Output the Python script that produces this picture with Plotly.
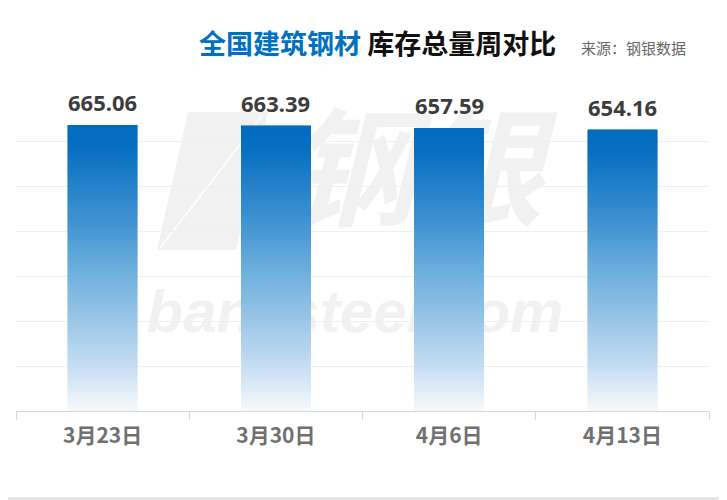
import plotly.graph_objects as go

# ---- data ----
categories = ["3月23日", "3月30日", "4月6日", "4月13日"]
values = [665.06, 663.39, 657.59, 654.16]
title_blue = "全国建筑钢材"
title_dark = "库存总量周对比"
source_text = "来源：钢银数据"

OFF = 8  # page body margin
W, H = 727 - OFF, 500 - OFF
# plot area in reference (window) pixels: x 16..709, y 110..411
ML = 16 - OFF
MR = W - (709 - OFF)
MT = 110 - OFF
MB = H - (411 - OFF)
PW, PH = W - ML - MR, H - MT - MB


def px(x):
    return (x - OFF - ML) / PW


def py(y):
    return (H - MB - (y - OFF)) / PH


# gradient stops: position from top (0) to bottom (1)
stops = [(0.0, (0x04, 0x6c, 0xbf)), (0.07, (0x06, 0x6e, 0xc0)), (0.31, (0x3a, 0x8f, 0xd0)),
         (0.50, (0x6a, 0xae, 0xdd)), (0.66, (0x94, 0xc3, 0xe5)), (0.84, (0xc5, 0xdd, 0xf1)),
         (1.0, (0xf7, 0xfa, 0xfd))]


def grad(t):
    for (p0, c0), (p1, c1) in zip(stops[:-1], stops[1:]):
        if p0 <= t <= p1:
            f = (t - p0) / (p1 - p0)
            c = [round(a + (b - a) * f) for a, b in zip(c0, c1)]
            return "rgb(%d,%d,%d)" % tuple(c)
    return "rgb(%d,%d,%d)" % stops[-1][1]


N = 100
fig = go.Figure()
for k in range(N):
    t_from_top = 1 - (k + 0.5) / N
    col = grad(t_from_top)
    fig.add_trace(go.Bar(
        x=categories, y=[v / N for v in values],
        marker=dict(color=col, line=dict(color=col, width=0.6)),
        showlegend=False, hoverinfo="skip",
    ))

annotations = []
for c, v in zip(categories, values):
    annotations.append(dict(
        x=c, y=v, xref="x", yref="y", text=f"{v:.2f}", showarrow=False,
        yanchor="bottom", yshift=6,
        font=dict(family="Noto Sans, DejaVu Sans", size=22, color="#3c3c3c", weight="bold"),
    ))

annotations.append(dict(
    x=px(377), y=py(42), xref="paper", yref="paper", xanchor="center", yanchor="middle",
    showarrow=False,
    text=f"<span style='color:#0070c0'>{title_blue}</span> {title_dark}",
    font=dict(family="Noto Sans CJK SC", size=27, color="#111111", weight="bold"),
))
annotations.append(dict(
    x=px(579), y=py(47), xref="paper", yref="paper", xanchor="left", yanchor="middle",
    showarrow=False, text=source_text,
    font=dict(family="Noto Sans CJK SC", size=15, color="#666666"),
))

wm = "#f1f1f1"
shapes = [
    # watermark icon
    dict(type="path", xref="paper", yref="paper", layer="below",
         path="M %f,%f L %f,%f L %f,%f L %f,%f Z" % (px(188), py(112), px(268), py(112),
                                                     px(236), py(250), px(157), py(250)),
         fillcolor=wm, line=dict(width=0)),
    dict(type="line", xref="paper", yref="paper", layer="below",
         x0=px(160), y0=py(248), x1=px(262), y1=py(116), line=dict(color="white", width=1.5)),
    # watermark text
    dict(type="rect", xref="paper", yref="paper", layer="below",
         x0=px(275), x1=px(555), y0=py(250), y1=py(110), line=dict(width=0),
         fillcolor="rgba(0,0,0,0)",
         label=dict(text="钢银", textposition="middle center",
                    font=dict(family="Noto Sans CJK SC", size=128, color=wm, weight="bold",
                              style="italic"))),
    dict(type="rect", xref="paper", yref="paper", layer="below",
         x0=px(150), x1=px(560), y0=py(340), y1=py(270), line=dict(width=0),
         fillcolor="rgba(0,0,0,0)",
         label=dict(text="banksteel.com", textposition="middle center",
                    font=dict(family="Liberation Sans", size=60, color=wm, weight="bold",
                              style="italic"))),
    # bottom border
    dict(type="line", xref="paper", yref="paper", x0=px(OFF), x1=px(727), y0=py(498.5), y1=py(498.5),
         line=dict(color="#dcdcdc", width=2)),
]

fig.update_layout(
    width=W, height=H, margin=dict(l=ML, r=MR, t=MT, b=MB),
    barmode="stack", bargap=0.6,
    plot_bgcolor="white", paper_bgcolor="white",
    annotations=annotations, shapes=shapes,
    xaxis=dict(type="category", showline=True, linecolor="#d6d6d6", linewidth=1,
               ticks="outside", tickson="boundaries", ticklen=8, tickcolor="#d6d6d6",
               showgrid=False, ticklabelstandoff=6,
               tickfont=dict(family="Noto Sans CJK SC", size=21, color="#707070", weight="bold")),
    yaxis=dict(range=[0, 700], showticklabels=False, showline=False, zeroline=False,
               tick0=0, dtick=104.65, gridcolor="#eceff6", gridwidth=1, ticks=""),
)

fig.write_html("out.html")
